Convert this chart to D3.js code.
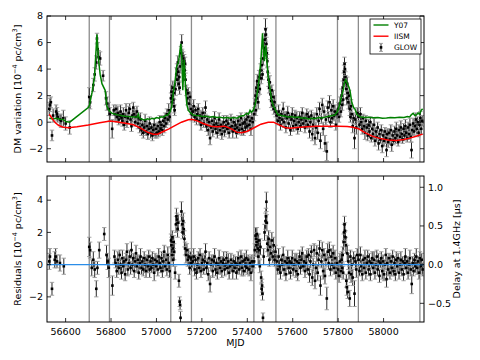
<!DOCTYPE html>
<html>
<head>
<meta charset="utf-8">
<script src="https://cdn.jsdelivr.net/npm/d3@7/dist/d3.min.js"></script>
<style>
  body { margin: 0; background: #fff; }
  svg text { font-family: "DejaVu Sans", sans-serif; fill: #000; }
</style>
</head>
<body>
<div id="chart"></div>
<script>
// DM measurements [MJD, DM (1e-4 pc/cm^3), error]
const dmData = [
  [56528,1.0,0.5],[56531,1.3,0.5],[56535,1.5,0.4],[56540,-1.0,0.4],[56545,0.5,0.5],[56558,0.8,0.5],[56562,0.6,0.5],
  [56565,0.4,0.4],[56575,0.2,0.4],[56580,0.1,0.5],[56590,0.3,0.6],[56600,-0.1,0.5],[56618,-0.4,0.5],
  [56704,1.9,0.7],[56708,1.5,0.5],[56722,2.8,0.5],[56728,3.6,0.5],[56735,4.5,0.5],[56738,6.3,0.4],[56741,5.5,0.5],
  [56745,4.9,0.5],[56752,4.8,0.5],[56765,3.5,0.4],[56778,1.8,0.5],[56782,1.4,0.5],[56790,1.0,0.5],[56795,0.6,0.5],[56805,-0.5,0.7],
  [56812,0.9,0.4],[56818,0.6,0.5],[56822,1.0,0.3],[56826,0.4,0.4],[56830,0.7,0.5],[56834,0.2,0.4],[56838,0.5,0.3],
  [56842,0.8,0.5],[56846,0.3,0.4],[56850,0.1,0.4],[56854,0.6,0.5],[56858,-0.2,0.4],[56862,0.4,0.3],[56866,0.9,0.5],
  [56870,0.0,0.4],[56874,0.3,0.4],[56878,0.7,0.5],[56882,1.0,0.4],[56886,0.2,0.3],[56890,-0.3,0.4],[56894,0.5,0.5],
  [56898,1.1,0.4],[56902,0.6,0.4],[56906,0.0,0.3],[56910,0.4,0.5],[56914,0.8,0.4],[56918,-0.1,0.4],[56922,0.3,0.3],
  [56926,-0.4,0.4],[56930,0.2,0.5],[56934,-0.6,0.4],[56938,-0.2,0.3],[56942,-0.8,0.4],[56946,-0.4,0.4],[56950,0.1,0.5],
  [56954,-0.7,0.3],[56958,-0.3,0.4],[56962,-0.9,0.4],[56966,-0.5,0.3],[56970,-0.1,0.5],[56974,-0.8,0.4],[56978,-0.4,0.3],
  [56982,-1.0,0.4],[56986,-0.6,0.4],[56990,-0.2,0.5],[56994,-0.9,0.3],[56998,-0.5,0.4],[57002,-0.8,0.4],[57006,-0.3,0.3],
  [57010,-0.7,0.4],[57014,0.0,0.5],[57018,-0.5,0.4],[57022,-0.2,0.3],[57026,-0.6,0.4],[57030,0.1,0.4],[57034,-0.3,0.5],
  [57038,0.3,0.4],[57042,-0.1,0.3],[57046,0.6,0.4],[57050,0.2,0.4],[57054,0.9,0.5],[57058,0.4,0.4],
  [57064,1.8,0.4],[57066,2.3,0.5],[57068,1.5,0.4],[57070,2.0,0.4],[57072,2.6,0.5],[57074,1.7,0.4],[57076,2.2,0.4],
  [57078,1.2,0.5],[57080,0.9,0.4],[57084,2.5,0.5],[57088,3.6,0.5],[57090,4.0,0.4],[57092,3.2,0.5],[57094,4.5,0.5],
  [57096,3.8,0.4],[57098,2.9,0.5],[57100,3.4,0.4],[57102,2.6,0.5],[57104,4.2,0.5],[57108,5.2,0.5],[57111,6.0,0.6],
  [57113,5.0,0.5],[57116,4.4,0.4],[57118,4.8,0.5],[57120,4.3,0.4],[57122,4.6,0.5],[57124,3.9,0.4],[57126,4.4,0.5],
  [57128,3.2,0.5],[57132,2.4,0.4],[57136,1.8,0.5],[57140,2.2,0.4],[57144,1.4,0.5],[57148,1.9,0.4],[57152,1.0,0.4],[57155,0.6,0.5],
  [57160,0.8,0.4],[57164,1.2,0.5],[57168,0.4,0.4],[57172,0.9,0.3],[57176,0.2,0.4],[57180,0.6,0.5],[57184,1.0,0.4],
  [57188,0.1,0.3],[57192,0.5,0.4],[57196,-0.2,0.4],[57200,0.3,0.5],[57204,0.7,0.4],[57208,-0.1,0.3],[57212,0.4,0.4],
  [57216,1.1,0.5],[57220,-0.3,0.4],[57224,0.2,0.3],[57228,-0.6,0.4],[57232,0.0,0.4],[57236,-1.2,0.5],[57240,-0.4,0.4],
  [57244,0.1,0.3],[57248,-0.7,0.4],[57252,-0.2,0.4],[57256,0.3,0.5],[57260,-0.5,0.4],[57264,-0.1,0.3],[57268,-0.8,0.4],
  [57272,-0.3,0.4],[57276,0.2,0.5],[57280,-0.6,0.4],[57284,-0.2,0.3],[57288,-0.9,0.4],[57292,-0.4,0.4],[57296,0.0,0.5],
  [57300,-0.7,0.4],[57304,-0.3,0.3],[57308,0.1,0.4],[57312,-0.5,0.4],[57316,-0.1,0.5],[57320,-0.8,0.4],[57324,-0.4,0.3],
  [57328,0.2,0.4],[57332,-0.3,0.4],[57336,-0.7,0.5],[57340,0.0,0.4],[57344,-0.5,0.3],[57348,-0.2,0.4],[57352,-0.8,0.4],
  [57356,-0.4,0.5],[57360,0.1,0.4],[57364,-0.6,0.3],[57368,-0.2,0.4],[57372,0.3,0.4],[57376,-0.5,0.5],[57380,-0.1,0.4],
  [57384,-0.7,0.3],[57388,0.0,0.4],[57392,-0.4,0.4],[57396,0.2,0.5],[57400,-0.3,0.4],[57404,0.4,0.3],[57408,-0.2,0.4],
  [57412,0.1,0.4],[57416,-0.5,0.5],[57420,0.3,0.4],[57424,0.0,0.4],
  [57430,0.6,0.5],[57433,1.4,0.4],[57436,2.0,0.5],[57438,0.9,0.4],[57440,2.6,0.5],[57442,1.8,0.4],[57444,3.1,0.5],
  [57446,2.3,0.4],[57448,1.5,0.5],[57450,2.8,0.4],[57452,3.4,0.5],[57455,2.5,0.4],[57458,3.9,0.5],[57461,3.3,0.4],
  [57464,4.3,0.5],[57467,3.6,0.4],[57470,4.8,0.5],[57473,5.6,0.5],[57476,6.2,0.5],[57478,5.4,0.4],[57480,7.0,0.8],
  [57482,6.6,0.5],[57484,5.9,0.5],[57486,5.2,0.4],[57488,4.6,0.5],[57490,3.8,0.4],[57493,3.2,0.5],[57496,2.6,0.4],
  [57499,3.0,0.5],[57502,2.1,0.4],[57505,1.6,0.5],[57508,2.4,0.4],[57511,1.3,0.4],[57514,1.9,0.5],[57517,1.0,0.4],
  [57520,1.5,0.5],[57524,0.8,0.4],
  [57530,0.5,0.4],[57534,0.1,0.3],[57538,0.8,0.5],[57542,0.3,0.4],[57546,-0.2,0.4],[57550,0.6,0.3],[57554,0.2,0.4],
  [57558,1.0,0.5],[57562,0.0,0.4],[57566,0.5,0.3],[57570,-0.4,0.4],[57574,0.3,0.4],[57578,0.7,0.5],[57582,-0.1,0.4],
  [57586,0.4,0.3],[57590,-0.6,0.4],[57594,0.2,0.4],[57598,0.6,0.5],[57602,-0.3,0.4],[57606,0.1,0.3],[57610,0.5,0.4],
  [57614,-0.2,0.4],[57618,0.3,0.5],[57622,-0.5,0.4],[57626,0.0,0.3],[57630,0.4,0.4],[57634,-0.3,0.4],[57638,0.2,0.5],
  [57642,0.7,0.4],[57646,-0.1,0.3],[57650,0.3,0.4],[57654,-0.4,0.4],[57658,0.1,0.5],[57662,0.6,0.4],[57666,-0.2,0.3],
  [57670,0.4,0.4],[57674,-0.7,0.5],[57678,0.0,0.4],[57682,0.5,0.4],[57686,-0.9,0.5],[57690,-0.2,0.4],[57694,0.3,0.4],
  [57698,-1.2,0.5],[57702,-0.4,0.4],[57706,0.6,0.5],[57710,-0.8,0.5],[57714,0.1,0.4],[57718,1.0,0.5],[57722,-1.4,0.6],
  [57726,0.3,0.4],[57730,1.3,0.5],[57734,-0.5,0.5],[57738,0.8,0.4],[57742,-1.6,0.6],[57746,0.2,0.4],[57750,-2.2,0.7],
  [57754,1.1,0.5],[57758,0.4,0.4],[57762,1.5,0.5],[57766,0.0,0.4],[57770,0.9,0.5],[57774,0.3,0.4],[57778,1.2,0.5],
  [57782,0.5,0.4],[57786,0.8,0.5],[57790,-0.2,0.4],[57794,0.6,0.4],
  [57800,1.0,0.5],[57804,0.4,0.4],[57808,1.4,0.5],[57812,0.8,0.4],[57815,2.0,0.5],[57818,1.3,0.4],[57820,2.6,0.5],
  [57822,1.7,0.4],[57824,3.2,0.5],[57826,3.8,0.5],[57828,4.4,0.5],[57830,4.0,0.5],[57832,3.4,0.4],[57834,3.0,0.5],
  [57836,2.5,0.4],[57838,1.8,0.5],[57840,2.9,0.5],[57842,2.2,0.4],[57845,1.5,0.5],[57848,2.0,0.4],[57851,1.0,0.5],
  [57854,0.4,0.4],[57857,1.2,0.5],[57860,0.6,0.4],[57864,-0.3,0.5],[57868,0.3,0.4],[57872,-1.2,0.8],[57876,0.2,0.4],
  [57880,-0.4,0.5],[57884,0.7,0.4],
  [57890,0.4,0.4],[57894,-0.2,0.3],[57898,0.6,0.5],[57902,0.0,0.4],[57906,-0.5,0.4],[57910,0.3,0.3],[57914,-0.3,0.4],
  [57918,-0.8,0.5],[57922,0.1,0.4],[57926,-0.4,0.3],[57930,-1.0,0.4],[57934,-0.2,0.4],[57938,-0.7,0.5],[57942,0.0,0.4],
  [57946,-1.2,0.3],[57950,-0.5,0.4],[57954,-0.9,0.4],[57958,-0.2,0.5],[57962,-1.4,0.4],[57966,-0.7,0.3],[57970,-1.1,0.4],
  [57974,-0.4,0.4],[57978,-1.6,0.5],[57982,-0.9,0.4],[57986,-1.3,0.3],[57990,-0.6,0.4],[57994,-1.8,0.5],[57998,-1.0,0.4],
  [58002,-1.4,0.4],[58006,-0.7,0.3],[58010,-1.2,0.4],[58013,-2.1,0.5],[58016,-0.9,0.4],[58020,-1.5,0.4],[58024,-0.8,0.3],
  [58028,-1.3,0.4],[58032,-0.6,0.4],[58036,-1.7,0.5],[58040,-1.0,0.4],[58044,-1.4,0.3],[58048,-0.7,0.4],[58052,-1.2,0.4],
  [58056,-0.5,0.5],[58060,-1.0,0.4],[58064,-1.5,0.3],[58068,-0.6,0.4],[58072,-1.1,0.4],[58076,-0.4,0.5],[58080,-0.9,0.4],
  [58084,-1.3,0.3],[58088,-0.5,0.4],[58092,-1.0,0.4],[58096,-0.3,0.5],[58100,-0.8,0.4],[58104,-1.2,0.3],[58108,-0.4,0.4],
  [58112,-0.9,0.4],[58116,-0.2,0.5],[58120,-1.1,0.4],[58123,-2.1,0.6],[58126,-0.6,0.4],[58130,-0.1,0.4],[58134,-0.7,0.3],
  [58138,-0.3,0.4],[58142,0.2,0.5],[58146,-0.5,0.4],[58150,0.0,0.4],[58154,-0.8,0.3],[58158,-0.2,0.4],[58162,0.3,0.5],
  [58166,-0.5,0.4],[58170,0.1,0.4]
];

// Y07 solar-wind model [MJD, DM]
const y07Model = [
  [56528,0.3],[56545,0.25],[56560,0.3],[56575,0.22],[56590,0.2],[56600,0.05],[56618,0.0],[56701,1.12],[56705,1.3],
  [56716,2.2],[56727,3.4],[56738,6.6],[56745,4.7],[56752,3.6],[56760,2.9],[56774,2.4],[56782,1.2],[56792,0.85],
  [56804,0.67],[56830,0.55],[56860,0.45],[56890,0.4],[56915,0.37],[56920,0.6],[56925,0.3],[56940,0.2],[56950,0.17],
  [56960,0.25],[56970,0.2],[56980,0.3],[56990,0.25],[57000,0.35],[57010,0.3],[57020,0.4],[57030,0.38],[57040,0.5],
  [57050,0.54],[57060,0.8],[57067,1.17],[57074,2.2],[57082,3.1],[57089,4.2],[57096,4.5],[57100,4.9],[57107,5.9],
  [57111,5.2],[57116,2.4],[57122,4.7],[57129,2.2],[57134,1.3],[57140,0.9],[57150,0.7],[57162,0.54],[57175,0.5],
  [57190,0.48],[57205,0.42],[57220,0.45],[57235,0.38],[57250,0.42],[57265,0.35],[57280,0.38],[57295,0.32],
  [57310,0.36],[57325,0.3],[57340,0.35],[57355,0.3],[57370,0.45],[57385,0.5],[57397,0.67],[57405,0.6],[57412,0.9],
  [57418,0.75],[57426,0.9],[57434,1.3],[57441,1.9],[57448,2.7],[57455,3.8],[57460,4.7],[57467,6.7],[57472,5.2],
  [57475,4.6],[57481,5.8],[57486,4.6],[57492,3.4],[57500,2.5],[57508,1.6],[57515,1.2],[57522,1.0],[57530,0.7],
  [57537,0.54],[57550,0.5],[57565,0.45],[57580,0.4],[57595,0.42],[57610,0.35],[57625,0.38],[57640,0.3],[57655,0.33],
  [57669,0.25],[57685,0.3],[57700,0.28],[57715,0.35],[57730,0.32],[57745,0.4],[57760,0.45],[57775,0.5],[57786,0.54],
  [57797,0.8],[57806,1.3],[57814,1.9],[57822,2.4],[57828,3.0],[57834,3.2],[57840,2.9],[57846,2.7],[57852,2.4],
  [57860,1.5],[57868,1.1],[57874,1.0],[57882,0.6],[57896,0.41],[57915,0.35],[57935,0.38],[57955,0.33],[57975,0.36],
  [57995,0.3],[58013,0.32],[58030,0.36],[58050,0.33],[58070,0.38],[58090,0.35],[58105,0.42],[58115,0.4],[58122,0.55],
  [58130,0.67],[58138,0.5],[58145,0.55],[58152,0.7],[58158,0.6],[58166,0.9],[58172,1.0]
];

// IISM model [MJD, DM]
const iismModel = [
  [56528,0.6],[56540,0.3],[56555,-0.05],[56570,-0.25],[56590,-0.38],[56613,-0.42],[56650,-0.35],[56700,-0.22],
  [56750,-0.05],[56796,0.08],[56830,0.02],[56870,-0.1],[56899,-0.2],[56930,-0.45],[56960,-0.75],[56985,-0.9],
  [57005,-0.9],[57030,-0.7],[57055,-0.5],[57075,-0.32],[57110,0.0],[57140,0.18],[57155,0.22],[57180,0.1],
  [57206,-0.1],[57240,-0.3],[57265,-0.34],[57300,-0.3],[57330,-0.5],[57353,-0.75],[57375,-0.8],[57400,-0.68],
  [57430,-0.42],[57460,-0.15],[57492,0.0],[57515,0.0],[57540,-0.2],[57565,-0.4],[57588,-0.45],[57620,-0.4],
  [57660,-0.35],[57705,-0.3],[57750,-0.3],[57800,-0.3],[57840,-0.32],[57866,-0.38],[57890,-0.5],[57920,-0.8],
  [57950,-1.05],[57983,-1.22],[58020,-1.34],[58056,-1.38],[58090,-1.3],[58115,-1.2],[58140,-1.08],[58159,-0.97],[58172,-0.9]
];

// post-fit residuals [MJD, residual (1e-4 pc/cm^3), error]
const resData = [
  [56528,0.2,0.5],[56531,0.5,0.5],[56540,-1.5,0.4],[56552,0.3,0.5],[56556,0.5,0.5],[56562,0.2,0.4],[56575,0.1,0.5],[56592,-0.1,0.5],
  [56704,1.1,0.6],[56708,0.9,0.5],[56715,-0.2,0.5],[56722,0.3,0.5],[56728,-0.3,0.5],[56735,-1.5,0.5],[56740,-0.2,0.4],
  [56748,0.9,0.5],[56770,1.9,0.4],[56780,0.6,0.6],[56785,0.2,0.5],[56790,-0.2,0.6],[56806,-1.3,0.6],
  [56815,0.5,0.4],[56820,0.1,0.3],[56825,-0.4,0.4],[56830,0.3,0.5],[56834,-0.2,0.4],[56838,0.6,0.3],[56842,0.0,0.4],
  [56846,-0.5,0.4],[56850,0.4,0.5],[56854,-0.1,0.4],[56858,0.2,0.3],[56862,-0.6,0.4],[56866,0.3,0.4],[56870,0.8,0.5],
  [56874,-0.3,0.4],[56878,0.1,0.3],[56882,0.5,0.4],[56886,-0.2,0.4],[56890,0.9,0.5],[56894,0.0,0.4],[56898,0.4,0.3],
  [56902,-0.4,0.4],[56906,0.2,0.4],[56910,0.7,0.5],[56914,-0.1,0.4],[56918,0.3,0.3],[56922,-0.5,0.4],[56926,0.1,0.4],
  [56930,0.5,0.5],[56934,-0.2,0.4],[56938,0.2,0.3],[56942,-0.3,0.4],[56946,0.4,0.4],[56950,0.0,0.5],[56954,-0.4,0.4],
  [56958,0.3,0.3],[56962,-0.1,0.4],[56966,0.5,0.4],[56970,-0.3,0.5],[56974,0.2,0.4],[56978,-0.2,0.3],[56982,0.4,0.4],
  [56986,0.0,0.4],[56990,-0.5,0.5],[56994,0.3,0.4],[56998,-0.1,0.3],[57002,0.2,0.4],[57006,-0.3,0.4],[57010,0.5,0.5],
  [57014,0.1,0.4],[57018,-0.2,0.3],[57022,0.4,0.4],[57026,-0.4,0.4],[57030,0.2,0.5],[57034,0.8,0.4],[57038,-0.1,0.3],
  [57042,0.3,0.4],[57046,-0.3,0.4],[57050,0.6,0.5],[57054,0.1,0.4],[57058,-0.4,0.4],
  [57064,1.5,0.4],[57066,1.2,0.5],[57068,0.6,0.4],[57070,1.7,0.4],[57072,1.0,0.5],[57074,0.3,0.4],[57076,1.4,0.4],
  [57078,0.8,0.5],[57082,-0.5,0.4],[57086,2.5,0.5],[57088,3.0,0.5],[57090,2.8,0.4],[57093,2.2,0.5],[57096,2.6,0.5],
  [57099,-1.0,0.4],[57102,-2.3,0.3],[57104,-2.5,0.3],[57106,-3.3,0.4],[57110,3.3,0.6],[57113,2.5,0.5],[57115,2.0,0.4],
  [57118,2.7,0.5],[57120,2.2,0.4],[57123,1.6,0.5],[57126,1.0,0.4],[57130,0.6,0.5],[57134,0.9,0.4],[57138,0.3,0.4],
  [57142,0.5,0.5],[57146,-0.2,0.4],[57150,0.4,0.4],[57154,0.1,0.5],
  [57160,0.2,0.4],[57164,0.5,0.5],[57168,-0.3,0.4],[57172,0.3,0.3],[57176,-0.5,0.4],[57180,0.0,0.5],[57184,0.4,0.4],
  [57188,-0.2,0.3],[57192,0.6,0.4],[57196,-0.4,0.4],[57200,0.1,0.5],[57204,0.3,0.4],[57208,-0.3,0.3],[57212,0.2,0.4],
  [57216,0.8,0.5],[57220,-0.2,0.4],[57224,0.1,0.3],[57228,-0.6,0.4],[57232,0.4,0.4],[57236,-1.2,0.5],[57240,0.0,0.4],
  [57244,0.3,0.3],[57248,-0.4,0.4],[57252,0.2,0.4],[57256,0.5,0.5],[57260,-0.3,0.4],[57264,0.1,0.3],[57268,-0.5,0.4],
  [57272,0.0,0.4],[57276,0.4,0.5],[57280,-0.2,0.4],[57284,0.2,0.3],[57288,-0.4,0.4],[57292,0.1,0.4],[57296,0.3,0.5],
  [57300,-0.3,0.4],[57304,0.0,0.3],[57308,0.4,0.4],[57312,-0.2,0.4],[57316,0.2,0.5],[57320,-0.5,0.4],[57324,-0.1,0.3],
  [57328,0.3,0.4],[57332,0.0,0.4],[57336,-0.4,0.5],[57340,0.2,0.4],[57344,-0.2,0.3],[57348,0.1,0.4],[57352,-0.5,0.4],
  [57356,0.0,0.5],[57360,0.4,0.4],[57364,-0.3,0.3],[57368,0.1,0.4],[57372,0.5,0.4],[57376,-0.2,0.5],[57380,0.2,0.4],
  [57384,-0.4,0.3],[57388,0.3,0.4],[57392,-0.1,0.4],[57396,0.4,0.5],[57400,-0.2,0.4],[57404,0.3,0.3],[57408,-0.3,0.4],
  [57412,0.1,0.4],[57416,-0.5,0.5],[57420,0.2,0.4],[57424,-0.1,0.4],
  [57430,0.2,0.4],[57433,0.9,0.4],[57436,1.8,0.5],[57438,1.6,0.4],[57440,1.2,0.5],[57442,1.9,0.4],[57444,1.4,0.5],
  [57446,1.0,0.4],[57448,0.5,0.5],[57450,1.5,0.4],[57452,0.9,0.5],[57455,-0.1,0.4],[57458,1.1,0.5],[57461,-0.8,0.4],
  [57463,-1.5,0.4],[57465,-1.3,0.4],[57467,-1.8,0.4],[57469,-3.3,0.3],[57472,0.5,0.5],[57476,2.0,0.5],[57480,2.7,0.5],
  [57482,3.0,0.5],[57484,3.9,0.6],[57486,2.6,0.5],[57488,1.3,0.5],[57491,0.9,0.4],[57494,1.6,0.5],[57497,0.3,0.4],
  [57500,1.1,0.5],[57504,0.7,0.4],[57508,1.5,0.5],[57512,0.5,0.4],[57516,1.2,0.5],[57520,0.3,0.4],[57524,0.8,0.4],
  [57530,0.2,0.4],[57534,-0.3,0.3],[57538,0.5,0.5],[57542,-0.1,0.4],[57546,-0.5,0.4],[57550,0.3,0.3],[57554,0.0,0.4],
  [57558,0.6,0.5],[57562,-0.3,0.4],[57566,0.2,0.3],[57570,-0.6,0.4],[57574,0.1,0.4],[57578,0.4,0.5],[57582,-0.2,0.4],
  [57586,0.2,0.3],[57590,-0.5,0.4],[57594,0.1,0.4],[57598,0.4,0.5],[57602,-0.3,0.4],[57606,0.0,0.3],[57610,0.3,0.4],
  [57614,-0.4,0.4],[57618,0.2,0.5],[57622,-0.6,0.4],[57626,0.1,0.3],[57630,0.5,0.4],[57634,-0.2,0.4],[57638,0.3,0.5],
  [57642,0.7,0.4],[57646,-0.1,0.3],[57650,0.2,0.4],[57654,-0.4,0.4],[57658,0.1,0.5],[57662,0.5,0.4],[57666,-0.3,0.3],
  [57670,0.6,0.4],[57674,-0.6,0.5],[57678,0.2,0.4],[57682,0.8,0.4],[57686,-0.8,0.5],[57690,0.0,0.4],[57694,0.9,0.4],
  [57698,-1.0,0.5],[57702,-0.2,0.4],[57706,0.7,0.5],[57710,-0.5,0.5],[57714,0.3,0.4],[57718,1.0,0.5],[57722,-1.3,0.6],
  [57726,0.2,0.4],[57730,0.9,0.5],[57734,-0.4,0.5],[57738,0.6,0.4],[57742,-0.7,0.5],[57746,0.3,0.4],[57750,-2.1,0.7],
  [57754,0.8,0.5],[57758,0.1,0.4],[57762,0.9,0.5],[57766,-0.3,0.4],[57770,0.5,0.5],[57774,0.0,0.4],[57778,0.7,0.5],
  [57782,-0.2,0.4],[57786,0.4,0.5],[57790,-0.5,0.4],[57794,0.1,0.4],
  [57800,-0.3,0.5],[57804,-0.7,0.4],[57808,0.2,0.5],[57812,-0.4,0.4],[57815,0.3,0.5],[57818,-0.2,0.4],[57820,0.6,0.5],
  [57822,-0.5,0.4],[57824,1.4,0.5],[57826,2.0,0.5],[57828,2.5,0.5],[57830,2.1,0.5],[57832,1.7,0.4],[57834,1.2,0.5],
  [57836,-1.0,0.4],[57838,-1.4,0.5],[57840,0.7,0.5],[57842,-1.7,0.4],[57845,0.2,0.5],[57848,-0.5,0.4],[57851,-2.1,0.5],
  [57854,0.5,0.4],[57857,-0.6,0.5],[57860,0.0,0.4],[57864,-0.8,0.5],[57868,0.4,0.4],[57872,-1.8,0.8],[57876,0.2,0.4],
  [57880,-0.3,0.5],[57884,0.6,0.4],
  [57890,0.3,0.4],[57894,-0.4,0.3],[57898,0.6,0.5],[57902,-0.1,0.4],[57906,-0.6,0.4],[57910,0.3,0.3],[57914,-0.2,0.4],
  [57918,0.4,0.5],[57922,-0.5,0.4],[57926,0.1,0.3],[57930,0.5,0.4],[57934,-0.3,0.4],[57938,0.2,0.5],[57942,-0.6,0.4],
  [57946,0.1,0.3],[57950,0.4,0.4],[57954,-0.2,0.4],[57958,0.3,0.5],[57962,-0.5,0.4],[57966,0.0,0.3],[57970,0.5,0.4],
  [57974,-0.3,0.4],[57978,0.2,0.5],[57982,-0.7,0.4],[57986,0.1,0.3],[57990,0.4,0.4],[57994,-0.4,0.5],[57998,0.2,0.4],
  [58002,-0.6,0.4],[58006,0.0,0.3],[58010,0.6,0.4],[58013,-0.9,0.5],[58016,0.1,0.4],[58020,-0.3,0.4],[58024,0.4,0.3],
  [58028,-0.5,0.4],[58032,0.2,0.4],[58036,-0.2,0.5],[58040,0.5,0.4],[58044,-0.4,0.3],[58048,0.1,0.4],[58052,-0.6,0.4],
  [58056,0.3,0.5],[58060,-0.1,0.4],[58064,0.4,0.3],[58068,-0.5,0.4],[58072,0.0,0.4],[58076,0.3,0.5],[58080,-0.3,0.4],
  [58084,0.2,0.3],[58088,-0.6,0.4],[58092,0.1,0.4],[58096,0.5,0.5],[58100,-0.2,0.4],[58104,0.2,0.3],[58108,-0.5,0.4],
  [58112,0.0,0.4],[58116,0.4,0.5],[58120,-0.3,0.4],[58124,-1.2,0.6],[58128,0.1,0.4],[58132,-0.4,0.3],[58136,0.3,0.4],
  [58140,-0.1,0.4],[58144,0.5,0.5],[58148,-0.2,0.4],[58152,0.2,0.3],[58156,-0.5,0.4],[58160,0.4,0.4],[58164,-0.1,0.5],
  [58168,0.3,0.4],[58172,-0.3,0.4]
];

// solar conjunction window edges (MJD)
const conjLines = [56704, 56793, 57063, 57154, 57429, 57526, 57797, 57889, 58160];

const xTicks = [56600, 56800, 57000, 57200, 57400, 57600, 57800, 58000];
const dmTicks = [-2, 0, 2, 4, 6, 8];
const resTicks = [-2, 0, 2, 4];
const delayTicks = [-0.5, 0.0, 0.5, 1.0];
const legendItems = ["Y07", "IISM", "GLOW"];

const WIDTH = 480, HEIGHT = 360;
const L = 47, R = 424;
const top1 = 16, bot1 = 162, top2 = 176, bot2 = 322;
const US_PER_DM = 0.2083; // 1e-4 pc/cm^3 -> us at 1.4 GHz

const x = d3.scaleLinear().domain([56518, 58178]).range([L, R]);
const yDM = d3.scaleLinear().domain([-3, 8]).range([bot1, top1]);
const yRes = d3.scaleLinear().domain([-3.56, 5.5]).range([bot2, top2]);
const yDelay = d3.scaleLinear().domain([-3.56 * US_PER_DM, 5.5 * US_PER_DM]).range([bot2, top2]);

const fmt = v => d3.format(".0f")(v).replace("-", "\u2212");
const fmt1 = v => d3.format(".1f")(v).replace("-", "\u2212");

const svg = d3.select("#chart").append("svg")
  .attr("width", WIDTH).attr("height", HEIGHT);

const defs = svg.append("defs");
defs.append("clipPath").attr("id", "clip1").append("rect")
  .attr("x", L).attr("y", top1).attr("width", R - L).attr("height", bot1 - top1);
defs.append("clipPath").attr("id", "clip2").append("rect")
  .attr("x", L).attr("y", top2).attr("width", R - L).attr("height", bot2 - top2);

// draw error bars + markers
function drawErr(g, data, y) {
  const eb = g.append("g");
  eb.selectAll("line.bar").data(data).enter().append("line")
    .attr("x1", d => x(d[0])).attr("x2", d => x(d[0]))
    .attr("y1", d => y(d[1] - d[2])).attr("y2", d => y(d[1] + d[2]))
    .attr("stroke", "#111").attr("stroke-width", 0.9);
  ["lo", "hi"].forEach((k, i) => {
    eb.selectAll("line.cap" + k).data(data).enter().append("line")
      .attr("x1", d => x(d[0]) - 2.2).attr("x2", d => x(d[0]) + 2.2)
      .attr("y1", d => y(i ? d[1] + d[2] : d[1] - d[2]))
      .attr("y2", d => y(i ? d[1] + d[2] : d[1] - d[2]))
      .attr("stroke", "#9a9a9a").attr("stroke-width", 0.9);
  });
  eb.selectAll("rect").data(data).enter().append("rect")
    .attr("x", d => x(d[0]) - 1.3).attr("y", d => y(d[1]) - 1.3)
    .attr("width", 2.6).attr("height", 2.6).attr("fill", "#000");
}

function panel(y, top, bot, clip) {
  const g = svg.append("g");
  const inner = g.append("g").attr("clip-path", "url(#" + clip + ")");
  inner.selectAll("line.conj").data(conjLines).enter().append("line")
    .attr("x1", d => x(d)).attr("x2", d => x(d))
    .attr("y1", top).attr("y2", bot)
    .attr("stroke", "#8c8c8c").attr("stroke-width", 1.3);
  return { g, inner };
}

function frame(g, y, ticks, top, bot, labels) {
  // x ticks, inward on both edges
  xTicks.forEach(t => {
    g.append("line").attr("x1", x(t)).attr("x2", x(t)).attr("y1", bot).attr("y2", bot - 4)
      .attr("stroke", "#000").attr("stroke-width", 0.8);
    g.append("line").attr("x1", x(t)).attr("x2", x(t)).attr("y1", top).attr("y2", top + 4)
      .attr("stroke", "#000").attr("stroke-width", 0.8);
  });
  ticks.forEach(t => {
    g.append("line").attr("x1", L).attr("x2", L + 4).attr("y1", y(t)).attr("y2", y(t))
      .attr("stroke", "#000").attr("stroke-width", 0.8);
    g.append("text").attr("x", L - 4).attr("y", y(t)).attr("dy", "0.35em")
      .attr("text-anchor", "end").attr("font-size", 9.5).text(fmt(t));
  });
  if (labels) {
    xTicks.forEach(t => {
      g.append("text").attr("x", x(t)).attr("y", bot + 13).attr("text-anchor", "middle")
        .attr("font-size", 9.5).text(t);
    });
  }
  g.append("rect").attr("x", L).attr("y", top).attr("width", R - L).attr("height", bot - top)
    .attr("fill", "none").attr("stroke", "#000").attr("stroke-width", 1);
}

const line = y => d3.line().x(d => x(d[0])).y(d => y(d[1]));

// ---- top panel ----
const p1 = panel(yDM, top1, bot1, "clip1");
drawErr(p1.inner, dmData, yDM);
p1.inner.append("path").datum(y07Model).attr("d", line(yDM))
  .attr("fill", "none").attr("stroke", "#008000").attr("stroke-width", 1.5);
p1.inner.append("path").datum(iismModel).attr("d", line(yDM))
  .attr("fill", "none").attr("stroke", "#ff0000").attr("stroke-width", 1.5);
frame(p1.g, yDM, dmTicks, top1, bot1, false);
dmTicks.forEach(t => {
  p1.g.append("line").attr("x1", R).attr("x2", R - 4).attr("y1", yDM(t)).attr("y2", yDM(t))
    .attr("stroke", "#000").attr("stroke-width", 0.8);
});

// legend
const lg = p1.g.append("g").attr("transform", "translate(370,19)");
lg.append("rect").attr("width", 51).attr("height", 35).attr("fill", "#fff")
  .attr("stroke", "#000").attr("stroke-width", 0.8);
const legColors = ["#008000", "#ff0000", null];
legendItems.forEach((name, i) => {
  const yy = 6 + i * 11.2;
  if (legColors[i]) {
    lg.append("line").attr("x1", 3.5).attr("x2", 18.5).attr("y1", yy).attr("y2", yy)
      .attr("stroke", legColors[i]).attr("stroke-width", 1.4);
  } else {
    lg.append("line").attr("x1", 11).attr("x2", 11).attr("y1", yy - 4).attr("y2", yy + 4)
      .attr("stroke", "#111").attr("stroke-width", 0.9);
    [yy - 4, yy + 4].forEach(c => lg.append("line").attr("x1", 9).attr("x2", 13)
      .attr("y1", c).attr("y2", c).attr("stroke", "#9a9a9a").attr("stroke-width", 0.9));
    lg.append("rect").attr("x", 9.7).attr("y", yy - 1.3).attr("width", 2.6).attr("height", 2.6).attr("fill", "#000");
  }
  lg.append("text").attr("x", 24).attr("y", yy).attr("dy", "0.35em")
    .attr("font-size", 7.5).text(name);
});

// ---- bottom panel ----
const p2 = panel(yRes, top2, bot2, "clip2");
drawErr(p2.inner, resData, yRes);
p2.inner.append("line").attr("x1", L).attr("x2", R).attr("y1", yRes(0)).attr("y2", yRes(0))
  .attr("stroke", "#2b8de8").attr("stroke-width", 1.4);
frame(p2.g, yRes, resTicks, top2, bot2, true);
delayTicks.forEach(t => {
  p2.g.append("line").attr("x1", R).attr("x2", R - 4).attr("y1", yDelay(t)).attr("y2", yDelay(t))
    .attr("stroke", "#000").attr("stroke-width", 0.8);
  p2.g.append("text").attr("x", R + 4).attr("y", yDelay(t)).attr("dy", "0.35em")
    .attr("font-size", 9.5).text(fmt1(t));
});

// axis labels
function yLabel(cx, cy, rot, main) {
  const t = svg.append("text").attr("transform", `translate(${cx},${cy}) rotate(${rot})`)
    .attr("text-anchor", "middle").attr("font-size", 9.5);
  t.append("tspan").text(main + " [10");
  t.append("tspan").attr("font-size", 6.5).attr("dy", -4).text("\u22124");
  t.append("tspan").attr("dy", 4).text(" pc/cm");
  t.append("tspan").attr("font-size", 6.5).attr("dy", -4).text("3");
  t.append("tspan").attr("dy", 4).text("]");
}
yLabel(21, (top1 + bot1) / 2, -90, "DM variation");
yLabel(21, (top2 + bot2) / 2, -90, "Residuals");
svg.append("text").attr("transform", `translate(460,${(top2 + bot2) / 2}) rotate(-90)`)
  .attr("text-anchor", "middle").attr("font-size", 9.5).text("Delay at 1.4GHz [\u03bcs]");
svg.append("text").attr("x", (L + R) / 2).attr("y", 346).attr("text-anchor", "middle")
  .attr("font-size", 9.5).text("MJD");
</script>
</body>
</html>
